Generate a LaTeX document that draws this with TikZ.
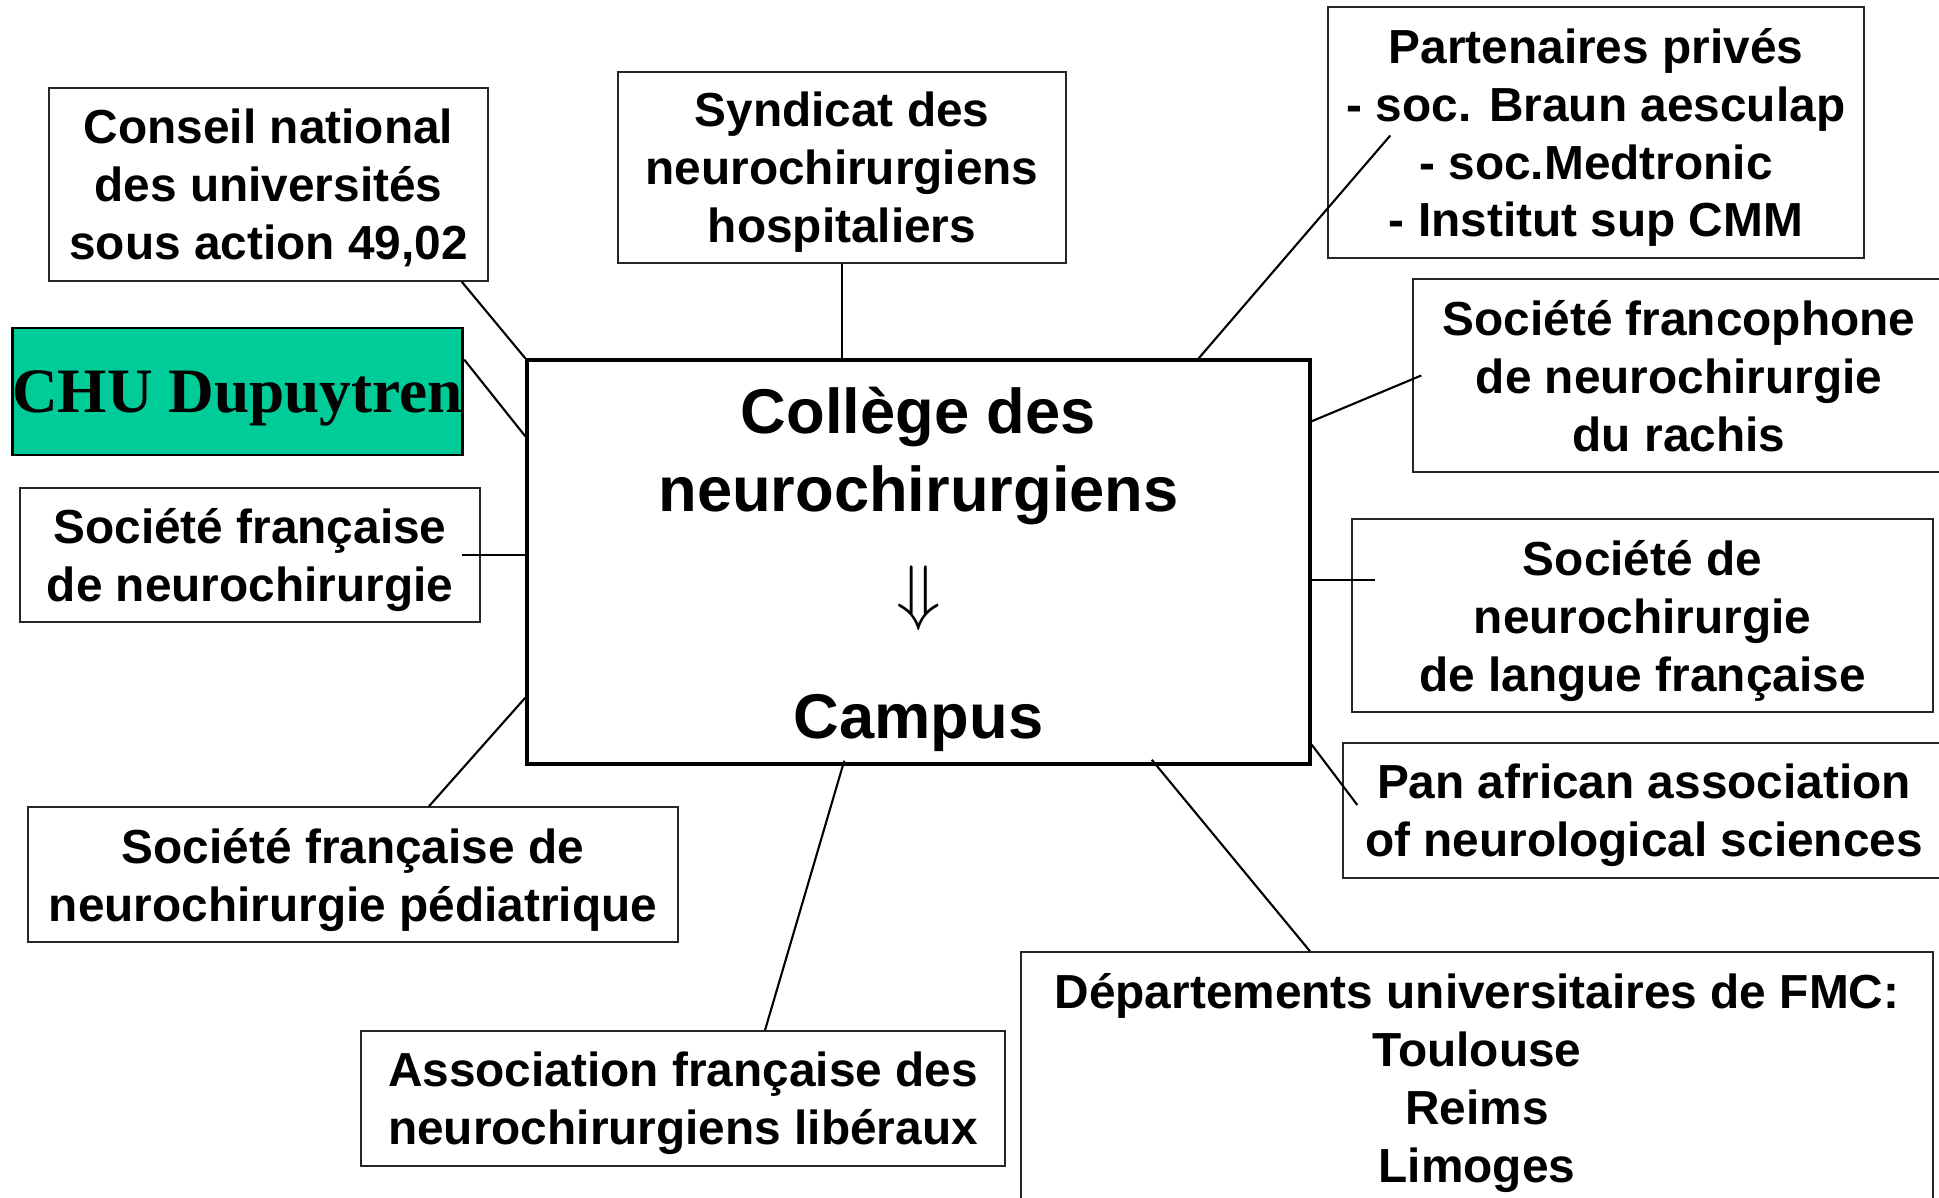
\documentclass[tikz,border=0pt]{standalone}
\usepackage{fontspec}
\setmainfont{Liberation Sans}
\newfontfamily\chufont{Liberation Serif}
\definecolor{chugreen}{HTML}{00CC99}

\begin{document}
\begin{tikzpicture}[
  box/.style={draw=black!85, line width=0.4pt, align=center, inner sep=0pt, text depth=-0.8pt,
    font=\bfseries\fontsize{13.6}{16.5}\selectfont},
  link/.style={line width=0.6pt}
]

  % Frame
  \path[use as bounding box, fill=white] (0,0) rectangle (19.39,11.98);

%%%%%%%%%%%%%%%%%%%%%%%%%%%%%%%%%%%%%%%%%%
  % Central box
  \node[draw, line width=1pt, minimum width=7.83cm, minimum height=4.04cm] (college) at (9.185,6.36) {};
  \node[font=\bfseries\fontsize{18}{22}\selectfont, align=center] (titre) at (9.185,7.42)
    {Collège des\\neurochirurgiens};
  \node[font=\fontsize{20}{20}\selectfont] (fleche) at (9.185,6.0) {$\Downarrow$};
  \node[font=\bfseries\fontsize{18}{22}\selectfont] (campus) at (9.185,4.75) {Campus};

%%%%%%%%%%%%%%%%%%%%%%%%%%%%%%%%%%%%%%%%%%
  % Left side
  \node[box, minimum width=4.39cm, minimum height=1.93cm] (conseil) at (2.685,10.135)
    {Conseil national\\des universités\\sous action 49,02};
  \node[draw, line width=0.8pt, fill=chugreen, inner sep=0pt, text depth=-0.8pt,
    minimum width=4.47cm, minimum height=1.27cm,
    font=\chufont\bfseries\fontsize{18}{22}\selectfont] (chu) at (2.375,8.065) {CHU Dupuytren};
  \node[box, minimum width=4.6cm, minimum height=1.34cm] (socfr) at (2.5,6.43)
    {Société française\\de neurochirurgie};
  \node[box, minimum width=6.5cm, minimum height=1.35cm] (pediatrie) at (3.53,3.235)
    {Société française de\\neurochirurgie pédiatrique};

  % Top and bottom
  \node[box, minimum width=4.48cm, minimum height=1.91cm] (syndicat) at (8.42,10.305)
    {Syndicat des\\neurochirurgiens\\hospitaliers};
  \node[box, minimum width=6.44cm, minimum height=1.35cm] (liberaux) at (6.83,0.995)
    {Association française des\\neurochirurgiens libéraux};

  % Right side
  \node[box, minimum width=5.36cm, minimum height=2.51cm] (partenaires) at (15.96,10.655)
    {Partenaires privés\\- soc. Braun aesculap\\- soc.Medtronic\\- Institut sup CMM};
  \node[box, minimum width=5.32cm, minimum height=1.93cm] (rachis) at (16.79,8.225)
    {Société francophone\\de neurochirurgie\\du rachis};
  \node[box, minimum width=5.81cm, minimum height=1.93cm] (langue) at (16.425,5.825)
    {Société de\\neurochirurgie\\de langue française};
  \node[box, minimum width=6.02cm, minimum height=1.35cm] (panafrican) at (16.44,3.875)
    {Pan african association\\of neurological sciences};
  \node[box, minimum width=9.12cm, minimum height=2.52cm] (fmc) at (14.77,1.2)
    {Départements universitaires de FMC:\\Toulouse\\Reims\\Limoges};

%%%%%%%%%%%%%%%%%%%%%%%%%%%%%%%%%%%%%%%%%%
  % Links
  \draw[link] ([xshift=-0.27cm]conseil.south east) -- (college.north west);
  \draw[link] ([yshift=-0.33cm]chu.north east) -- ([yshift=-0.78cm]college.north west);
  \draw[link] ([xshift=-0.19cm]socfr.east) -- (socfr.east -| college.west);
  \draw[link] ([xshift=0.76cm]pediatrie.north) -- ([yshift=0.68cm]college.south west);
  \draw[link] ([xshift=0.82cm]liberaux.north) -- ([xshift=3.19cm,yshift=0.05cm]college.south west);
  \draw[link] ([xshift=-1.67cm]fmc.north) -- ([xshift=-1.6cm,yshift=0.06cm]college.south east);
  \draw[link] (syndicat.south) -- (syndicat.south |- college.north);
  \draw[link] ([xshift=-1.13cm]college.north east) -- ([xshift=0.63cm,yshift=-0.03cm]partenaires.west);
  \draw[link] ([yshift=-0.63cm]college.north east) -- ([xshift=0.09cm]rachis.west);
  \draw[link] ([yshift=-2.22cm]college.north east) coordinate (lg)
    -- ([xshift=0.24cm]lg -| langue.west);
  \draw[link] ([yshift=0.21cm]college.south east) -- ([xshift=0.15cm,yshift=0.055cm]panafrican.west);

\end{tikzpicture}
\end{document}
